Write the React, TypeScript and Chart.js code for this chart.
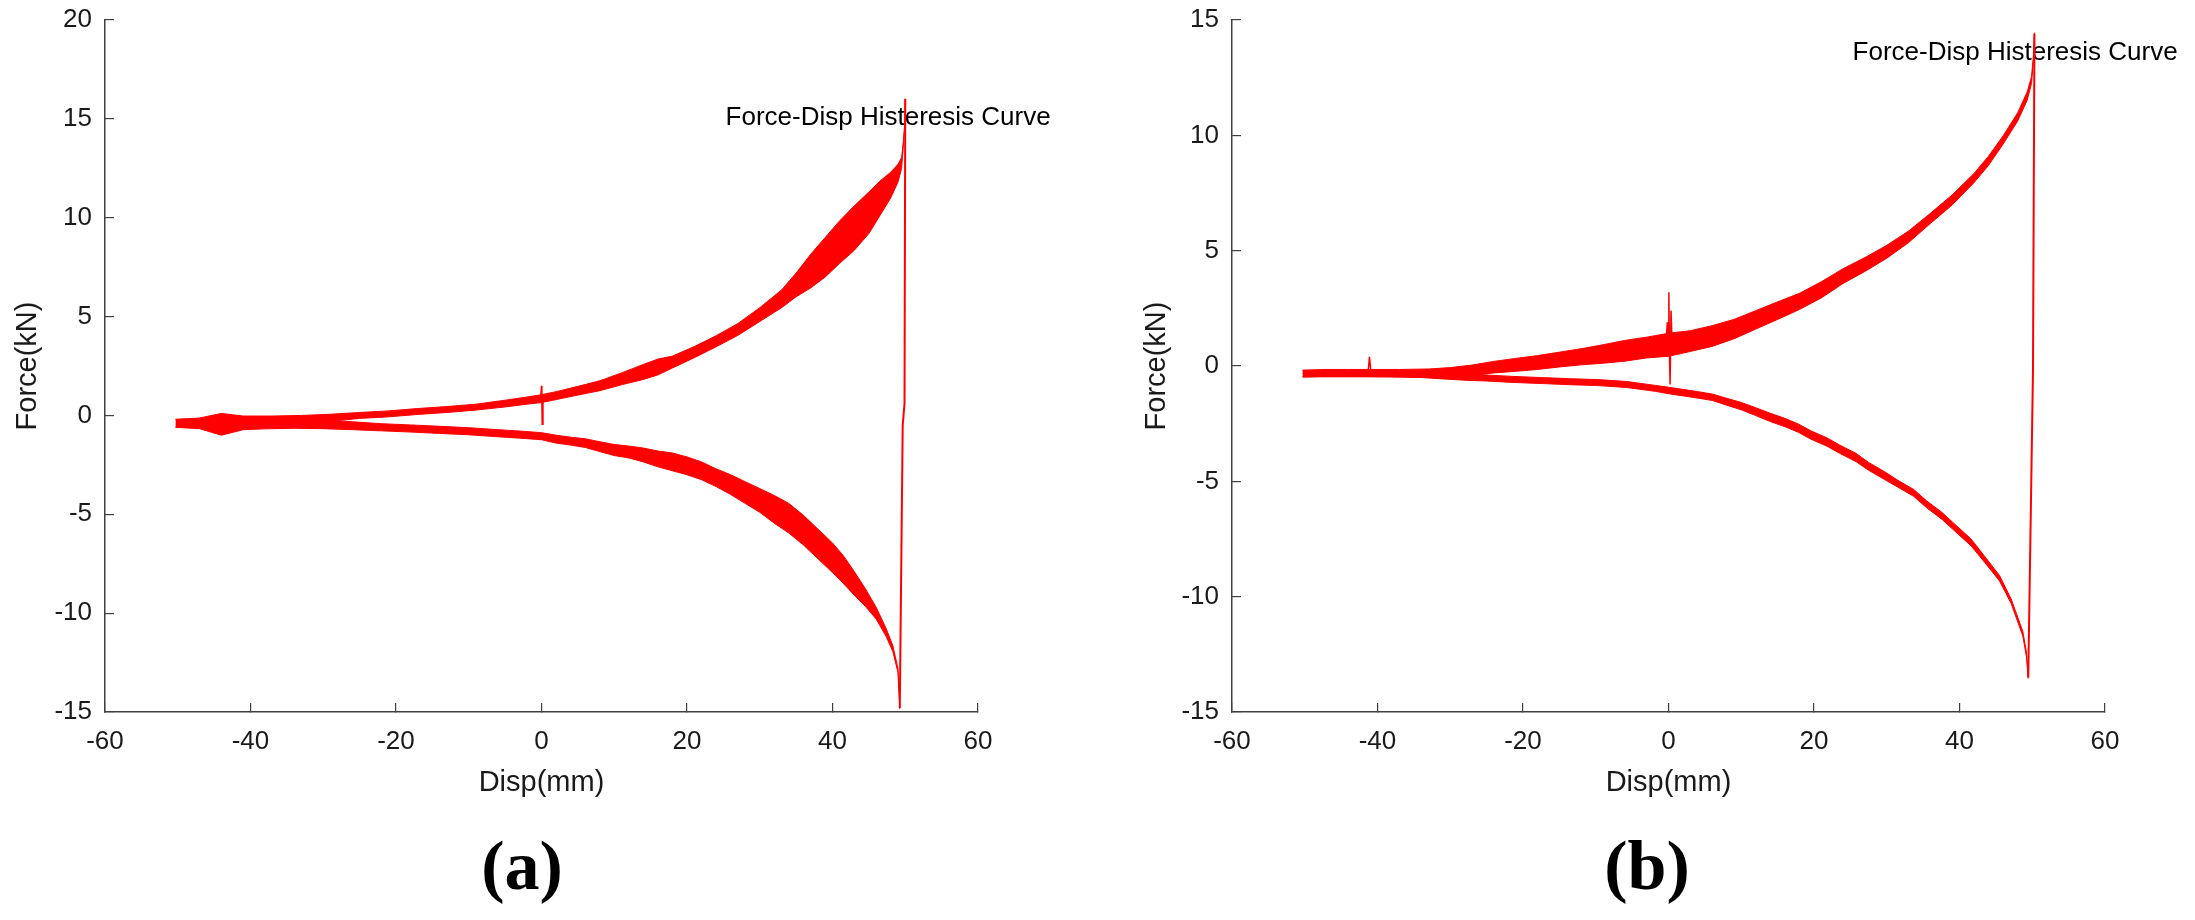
import React, { useEffect, useRef } from "react";
import { Chart, registerables } from "chart.js";

Chart.register(...registerables);

const FONT = "'Liberation Sans', Arial, Helvetica, sans-serif";
const SERIF = "'Liberation Serif', 'Times New Roman', Times, serif";
const RED = "#ff0000";
const AXIS = "#404040";
const INK = "#1a1a1a";

// axis ticks
const xTicks = [-60, -40, -20, 0, 20, 40, 60];
const yTicksA = [-15, -10, -5, 0, 5, 10, 15, 20];
const yTicksB = [-15, -10, -5, 0, 5, 10, 15];

const xTitle = "Disp(mm)";
const yTitle = "Force(kN)";
const noteText = "Force-Disp Histeresis Curve";
const panelLabels = ["(a)", "(b)"];

// where the note sits, in data units (x, y)
const noteA = [25.3, 15.05];
const noteB = [25.3, 13.57];

// ---- panel (a): loading branch, band edges
const aLoadX = [-50.3, -47, -44, -41, -37, -33, -29, -25, -21, -17, -13, -9, -5, -2, 0, 2, 5, 8, 11, 14, 16, 18, 21, 24, 27, 30, 33, 35, 37, 39, 41, 43, 45, 46.5, 48, 49, 49.5, 49.75, 49.95, 50.0];
const aLoadLo = [-0.6, -0.63, -0.7, -0.63, -0.53, -0.44, -0.3, -0.15, -0.07, 0.05, 0.15, 0.27, 0.43, 0.57, 0.65, 0.8, 1.03, 1.25, 1.55, 1.82, 2.05, 2.4, 2.92, 3.47, 4.05, 4.75, 5.45, 6.0, 6.45, 7.0, 7.7, 8.35, 9.2, 10.1, 11.0, 11.8, 12.5, 13.68, 14.74, 15.97];
const aLoadHi = [-0.2, -0.13, 0.1, -0.03, -0.03, 0.0, 0.06, 0.15, 0.23, 0.35, 0.45, 0.57, 0.77, 0.93, 1.05, 1.2, 1.47, 1.75, 2.15, 2.58, 2.85, 3.0, 3.48, 4.03, 4.65, 5.45, 6.35, 7.2, 8.15, 9.0, 9.85, 10.6, 11.3, 11.85, 12.3, 12.7, 13.05, 13.92, 14.86, 16.03];

// panel (a): unloading branch
const aUnloadX = [-50.3, -47, -44, -41, -38, -34, -30, -26, -22, -18, -14, -10, -6, -3, 0, 2, 4, 6, 8, 10, 12, 14, 16, 18, 20, 22, 24, 26, 28, 30, 32, 34, 36, 38, 40, 41.5, 43, 44.5, 46, 47.4, 48.3, 49.0, 49.25];
const aUnloadLo = [-0.6, -0.67, -1.0, -0.72, -0.68, -0.65, -0.67, -0.72, -0.78, -0.84, -0.91, -0.98, -1.08, -1.15, -1.23, -1.4, -1.5, -1.62, -1.83, -2.03, -2.15, -2.35, -2.6, -2.8, -3.0, -3.25, -3.6, -4.0, -4.45, -4.9, -5.45, -5.95, -6.55, -7.25, -7.95, -8.5, -9.1, -9.65, -10.3, -11.2, -11.95, -13.0, -14.85];
const aUnloadHi = [-0.2, -0.17, -0.2, -0.12, -0.12, -0.15, -0.23, -0.32, -0.42, -0.48, -0.55, -0.62, -0.72, -0.79, -0.87, -1.0, -1.1, -1.18, -1.33, -1.47, -1.55, -1.65, -1.8, -1.9, -2.1, -2.35, -2.7, -3.0, -3.35, -3.7, -4.05, -4.45, -5.05, -5.75, -6.45, -7.1, -7.9, -8.75, -9.7, -10.8, -11.65, -12.8, -14.75];

// panel (a): reversal at +50 mm and the glitch at 0 mm
const aTurnX = [49.25, 49.65, 49.9, 50.0];
const aTurnY = [-14.8, -0.5, 0.6, 16.0];
const aSpikeX = [-0.1, 0, 0.05, 0.1, 0.2];
const aSpikeY = [0.85, 1.5, 0.7, -0.45, 0.85];

// ---- panel (b): loading branch
const bLoadX = [-50.3, -47, -44, -41, -37, -33, -30, -27, -24, -21, -18, -15, -12, -9, -6, -3, 0, 3, 6, 9, 12, 15, 18, 21, 24, 27, 30, 33, 36, 39, 42, 44, 46, 48, 49.3, 49.9, 50.2, 50.3];
const bLoadLo = [-0.48, -0.45, -0.45, -0.45, -0.45, -0.43, -0.43, -0.4, -0.3, -0.23, -0.15, -0.04, 0.05, 0.12, 0.21, 0.35, 0.42, 0.63, 0.85, 1.18, 1.6, 2.02, 2.45, 2.95, 3.58, 4.1, 4.67, 5.35, 6.18, 6.98, 7.95, 8.7, 9.62, 10.62, 11.52, 12.25, 13.4, 14.35];
const bLoadHi = [-0.18, -0.15, -0.15, -0.15, -0.15, -0.13, -0.07, 0.04, 0.2, 0.33, 0.45, 0.6, 0.75, 0.92, 1.11, 1.25, 1.42, 1.53, 1.75, 2.02, 2.4, 2.78, 3.15, 3.65, 4.22, 4.7, 5.23, 5.85, 6.62, 7.42, 8.35, 9.1, 9.98, 10.98, 11.88, 12.55, 13.6, 14.45];

// panel (b): unloading branch
const bUnloadX = [-50.3, -46, -42, -38, -34, -31, -27.8, -25, -21.5, -17.5, -13.6, -9.7, -5.8, -1.8, 0, 2.1, 4, 6.1, 8, 10, 12, 14, 16, 17.9, 19.5, 21.8, 23.5, 25.8, 27.5, 29.7, 31.5, 33.7, 35.5, 37.6, 39.5, 41.6, 43.5, 45.5, 47.1, 48.7, 49.2, 49.45];
const bUnloadLo = [-0.47, -0.47, -0.47, -0.48, -0.5, -0.56, -0.62, -0.65, -0.71, -0.76, -0.81, -0.85, -0.93, -1.1, -1.2, -1.3, -1.39, -1.5, -1.7, -1.9, -2.15, -2.41, -2.63, -2.88, -3.16, -3.48, -3.78, -4.15, -4.52, -4.92, -5.25, -5.65, -6.15, -6.65, -7.2, -7.8, -8.53, -9.32, -10.3, -11.7, -12.6, -13.55];
const bUnloadHi = [-0.19, -0.19, -0.19, -0.2, -0.22, -0.28, -0.34, -0.39, -0.45, -0.5, -0.55, -0.59, -0.67, -0.84, -0.92, -1.02, -1.11, -1.22, -1.4, -1.58, -1.81, -2.05, -2.27, -2.52, -2.8, -3.12, -3.42, -3.79, -4.18, -4.58, -4.95, -5.35, -5.85, -6.35, -6.9, -7.5, -8.27, -9.08, -10.1, -11.5, -12.4, -13.45];

// panel (b): reversal and spikes
const bTurnX = [49.45, 50.1, 50.3];
const bTurnY = [-13.5, -0.2, 14.4];
const bSpikeX = [-0.4, -0.15, -0.05, 0.05, 0.15, 0.22, 0.35, 0.5];
const bSpikeY = [0.9, 1.9, 0.5, 3.2, 0.2, -0.8, 2.4, 0.9];
const bBlipX = [-41.3, -41.1, -40.9];
const bBlipY = [-0.3, 0.4, -0.3];

const CANVAS_H = 820;

const pts = (xs: number[], ys: number[]) => xs.map((x, i) => ({ x, y: ys[i] }));

const lineStyle = (w: number) => ({
  borderColor: RED,
  backgroundColor: RED,
  borderWidth: w,
  pointRadius: 0,
  pointHoverRadius: 0,
  tension: 0,
});

const band = (xs: number[], lo: number[], hi: number[]) => [
  { data: pts(xs, hi), fill: "+1", ...lineStyle(1) },
  { data: pts(xs, lo), fill: false, ...lineStyle(1) },
];

const trace = (xs: number[], ys: number[], w: number) => ({
  data: pts(xs, ys),
  fill: false,
  ...lineStyle(w),
});

type PanelDef = {
  datasets: any[];
  yTicks: number[];
  note: number[];
  axisWidth: number; // px from canvas left to y axis
  rightPad: number;
  yTitlePad: number;
};

const notePlugin = (pos: number[]) => ({
  id: "note",
  beforeDatasetsDraw(chart: any) {
    const { ctx, scales } = chart;
    ctx.save();
    ctx.font = `26px ${FONT}`;
    ctx.fillStyle = "#000";
    ctx.textAlign = "left";
    ctx.textBaseline = "middle";
    ctx.fillText(noteText, scales.x.getPixelForValue(pos[0]), scales.y.getPixelForValue(pos[1]));
    ctx.restore();
  },
});

// drop the label overhang padding so the plot box sits where the picture has it
const noOverhang = (s: any) => {
  s.paddingTop = 0;
  s.paddingBottom = 0;
  s.paddingLeft = 0;
  s.paddingRight = 0;
};

function buildConfig(p: PanelDef): any {
  const tickFont = { family: FONT, size: 26 };
  const titleFont = { family: FONT, size: 29 };
  return {
    type: "line",
    data: { datasets: p.datasets },
    options: {
      animation: false,
      responsive: false,
      devicePixelRatio: 1,
      events: [],
      layout: { padding: { left: 0, right: p.rightPad, top: 20, bottom: 0 } },
      plugins: {
        legend: { display: false },
        tooltip: { enabled: false },
      },
      scales: {
        x: {
          type: "linear",
          min: xTicks[0],
          max: xTicks[xTicks.length - 1],
          afterBuildTicks: (s: any) => {
            s.ticks = xTicks.map((value) => ({ value }));
          },
          afterFit: (s: any) => {
            s.height = CANVAS_H - 712;
            noOverhang(s);
          },
          grid: { drawOnChartArea: false, tickLength: -9, color: AXIS, lineWidth: 1.2 },
          border: { display: true, color: AXIS, width: 1.5 },
          ticks: { color: INK, font: tickFont, padding: 23, maxRotation: 0, autoSkip: false },
          title: {
            display: true,
            text: xTitle,
            color: INK,
            font: titleFont,
            padding: { top: 0, bottom: 20 },
          },
        },
        y: {
          type: "linear",
          min: p.yTicks[0],
          max: p.yTicks[p.yTicks.length - 1],
          afterBuildTicks: (s: any) => {
            s.ticks = p.yTicks.map((value) => ({ value }));
          },
          afterFit: (s: any) => {
            s.width = p.axisWidth;
            noOverhang(s);
          },
          grid: { drawOnChartArea: false, tickLength: -9, color: AXIS, lineWidth: 1.2 },
          border: { display: true, color: AXIS, width: 1.5 },
          ticks: { color: INK, font: tickFont, padding: 22, autoSkip: false },
          title: {
            display: true,
            text: yTitle,
            color: INK,
            font: titleFont,
            padding: { top: p.yTitlePad, bottom: 0 },
          },
        },
      },
    },
    plugins: [notePlugin(p.note)],
  };
}

const panelA: PanelDef = {
  datasets: [
    ...band(aLoadX, aLoadLo, aLoadHi),
    ...band(aUnloadX, aUnloadLo, aUnloadHi),
    trace(aTurnX, aTurnY, 2),
    trace(aSpikeX, aSpikeY, 1.5),
  ],
  yTicks: yTicksA,
  note: noteA,
  axisWidth: 105,
  rightPad: 119,
  yTitlePad: 10.6,
};

const panelB: PanelDef = {
  datasets: [
    ...band(bLoadX, bLoadLo, bLoadHi),
    ...band(bUnloadX, bUnloadLo, bUnloadHi),
    trace(bTurnX, bTurnY, 2),
    trace(bSpikeX, bSpikeY, 1.5),
    trace(bBlipX, bBlipY, 1.5),
  ],
  yTicks: yTicksB,
  note: noteB,
  axisWidth: 135,
  rightPad: 90,
  yTitlePad: 42.6,
};

const Panel: React.FC<{ def: PanelDef; left: number; width: number }> = ({ def, left, width }) => {
  const canvasRef = useRef<HTMLCanvasElement | null>(null);

  useEffect(() => {
    const ctx = canvasRef.current?.getContext("2d");
    if (!ctx) return;
    const chart = new Chart(ctx, buildConfig(def));
    return () => chart.destroy();
  }, [def]);

  return (
    <canvas
      ref={canvasRef}
      width={width}
      height={CANVAS_H}
      style={{ position: "absolute", left, top: 0, width, height: CANVAS_H }}
    />
  );
};

const labelStyle = (center: number): React.CSSProperties => ({
  position: "absolute",
  left: center - 100,
  top: 831,
  width: 200,
  textAlign: "center",
  fontFamily: SERIF,
  fontWeight: "bold",
  fontSize: 70,
  lineHeight: "70px",
  color: "#000",
});

const App: React.FC = () => {
  return (
    <div
      style={{
        position: "absolute",
        left: 0,
        top: 0,
        width: 2195,
        height: 920,
        background: "#fff",
        overflow: "hidden",
      }}
    >
      <Panel def={panelA} left={0} width={1097} />
      <Panel def={panelB} left={1097} width={1098} />
      <div style={labelStyle(522)}>{panelLabels[0]}</div>
      <div style={labelStyle(1647)}>{panelLabels[1]}</div>
    </div>
  );
};

export default App;
